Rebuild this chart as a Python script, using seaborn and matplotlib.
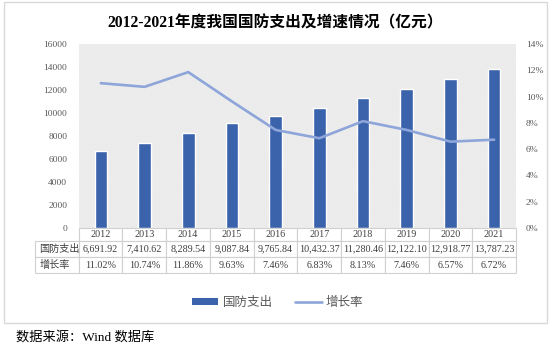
import matplotlib
matplotlib.use('Agg')
import matplotlib.pyplot as plt
import seaborn as sns
import numpy as np
import pandas as pd
from matplotlib.patches import Rectangle, Patch
from matplotlib.lines import Line2D

# ---- data ----
years = ['2012', '2013', '2014', '2015', '2016', '2017', '2018', '2019', '2020', '2021']
spending = [6691.92, 7410.62, 8289.54, 9087.84, 9765.84, 10432.37, 11280.46, 12122.10, 12918.77, 13787.23]
growth = [11.02, 10.74, 11.86, 9.63, 7.46, 6.83, 8.13, 7.46, 6.57, 6.72]
spending_labels = ['6,691.92', '7,410.62', '8,289.54', '9,087.84', '9,765.84',
                   '10,432.37', '11,280.46', '12,122.10', '12,918.77', '13,787.23']
growth_labels = ['11.02%', '10.74%', '11.86%', '9.63%', '7.46%', '6.83%', '8.13%', '7.46%', '6.57%', '6.72%']
row_labels = ['国防支出', '增长率']
left_ticks = [0, 2000, 4000, 6000, 8000, 10000, 12000, 14000, 16000]
right_ticks = [0, 2, 4, 6, 8, 10, 12, 14]
title = '2012-2021年度我国国防支出及增速情况（亿元）'
source = '数据来源：Wind 数据库'

bar_color = '#3B63AC'
line_color = '#8EA5DA'
grey = '#595959'

sns.set_theme(style='white')
plt.rcParams['font.family'] = ['Liberation Serif', 'Noto Sans CJK SC']
plt.rcParams['hatch.linewidth'] = 0.5

W, H = 550, 345
fig = plt.figure(figsize=(5.5, 3.45), dpi=100)
fig.patch.set_facecolor('white')

ax = fig.add_axes([79 / W, 1 - 228 / H, 437 / W, 184 / H])
ax.patch.set_alpha(0)
bg = Rectangle((0, 0), 1, 1, transform=ax.transAxes, facecolor='white',
               edgecolor='#E2E2E2', hatch='\\' * 22, linewidth=0, zorder=0)
ax.add_patch(bg)

df = pd.DataFrame({'year': years, 'spending': spending, 'growth': growth})
sns.barplot(data=df, x='year', y='spending', color=bar_color, saturation=1,
            width=0.29, ax=ax, zorder=2)
ax.set_xlim(-0.5, len(years) - 0.5)
ax.set_ylim(0, 16000)
ax.set_yticks(left_ticks)
ax.set_yticklabels([str(v) for v in left_ticks])
ax.tick_params(axis='y', length=0, pad=8.5, labelsize=6.8, labelcolor=grey)
ax.set_xticks([])
ax.set_xlabel('')
ax.set_ylabel('')
for s in ax.spines.values():
    s.set_visible(False)

ax2 = ax.twinx()
sns.lineplot(x=np.arange(len(years)), y=df['growth'], ax=ax2, color=line_color,
             linewidth=1.9, zorder=3)
ax2.set_ylim(0, 14)
ax2.set_yticks(right_ticks)
ax2.set_yticklabels([f'{v}%' for v in right_ticks])
ax2.tick_params(axis='y', length=0, pad=7, labelsize=6.8, labelcolor=grey)
ax2.set_ylabel('')
for s in ax2.spines.values():
    s.set_visible(False)

# ---- data table ----
x0 = (35 - 79) / 437
y0 = (228 - 273) / 184
cell_text = [[row_labels[0]] + spending_labels, [row_labels[1]] + growth_labels]
tbl = ax.table(cellText=cell_text, colLabels=[''] + years,
               colWidths=[0.1] * (len(years) + 1),
               cellLoc='center', colLoc='center',
               bbox=[x0, y0, (516 - 35) / 437, 45 / 184])
tbl.auto_set_font_size(False)
tbl.set_fontsize(7.3)
for (r, c), cell in tbl.get_celld().items():
    cell.set_edgecolor('#D0D0D0')
    cell.set_linewidth(0.8)
    cell.get_text().set_color('#404040')
    cell.set_height(13 if r == 0 else 16)
    if c == 0:
        cell._loc = 'left'
        cell.get_text().set_ha('left')
    if r == 0 and c == 0:
        cell.visible_edges = ''

# ---- legend ----
handles = [Patch(facecolor=bar_color, edgecolor='none'),
           Line2D([], [], color=line_color, linewidth=1.9)]
fig.legend(handles, row_labels, loc='center', bbox_to_anchor=(0.505, 1 - 303 / H),
           ncol=2, frameon=False, fontsize=9, handlelength=2.1, handleheight=0.45,
           handletextpad=0.35, columnspacing=1.8, labelcolor=grey)

# ---- title, source, border ----
fig.text(0.5, 1 - 23 / H, title, ha='center', va='center', fontsize=11.3,
         fontweight='bold', color='black')
fig.text(16 / W, 1 - 337 / H, source, ha='left', va='center', fontsize=9.5,
         color='black')
fig.patches.append(Rectangle((4 / W, 1 - 323 / H), (547 - 4) / W, (323 - 2) / H,
                             transform=fig.transFigure, fill=False,
                             edgecolor='#D9D9D9', linewidth=1))

fig.savefig('out.png', dpi=100)
